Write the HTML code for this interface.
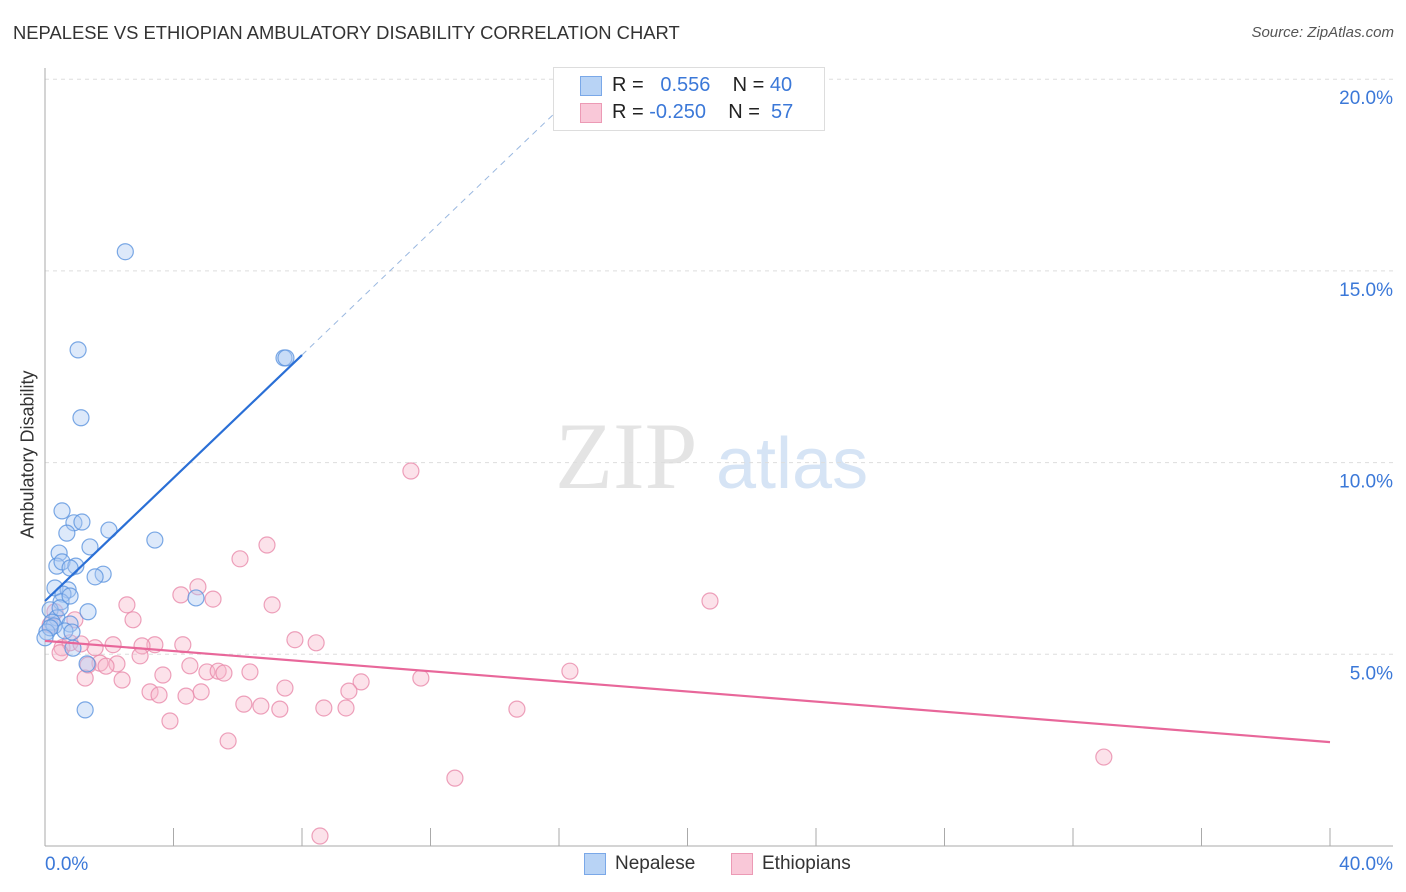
<!DOCTYPE html>
<html><head><meta charset="utf-8"><style>
body{margin:0;background:#fff;font-family:"Liberation Sans",sans-serif;}
#wrap{position:relative;width:1406px;height:892px;overflow:hidden;}
.t{position:absolute;white-space:nowrap;}
</style></head><body>
<div id="wrap">
<div class="t" style="left:13px;top:22px;font-size:18.4px;color:#333;">NEPALESE VS ETHIOPIAN AMBULATORY DISABILITY CORRELATION CHART</div>
<div class="t" style="right:12px;top:24px;font-size:15px;color:#555;font-style:italic;">Source: ZipAtlas.com</div>
<svg id="svg" width="1406" height="892" style="position:absolute;left:0;top:0"></svg>
<div class="t" style="left:-72px;top:444px;width:200px;text-align:center;transform:rotate(-90deg);font-size:18px;color:#333;">Ambulatory Disability</div>
<div style="position:absolute;left:553px;top:67px;width:270px;height:62px;border:1px solid #ddd;background:#fff;">
 <div style="position:absolute;left:26px;top:8px;width:20px;height:18px;background:#b8d3f5;border:1px solid #7aa8e8;"></div>
 <div style="position:absolute;left:26px;top:35px;width:20px;height:18px;background:#f9c8d8;border:1px solid #ec9ab5;"></div>
 <div class="t" style="left:58px;top:6px;font-size:20px;color:#222">R = &nbsp;&nbsp;<span style="color:#3b78d8">0.556</span>&nbsp;&nbsp;&nbsp; N = <span style="color:#3b78d8">40</span></div>
 <div class="t" style="left:58px;top:33px;font-size:20px;color:#222">R = <span style="color:#3b78d8">-0.250</span>&nbsp;&nbsp;&nbsp; N = &nbsp;<span style="color:#3b78d8">57</span></div>
</div>
<div style="position:absolute;left:584px;top:853px;width:20px;height:20px;background:#b8d3f5;border:1px solid #7aa8e8;"></div>
<div class="t" style="left:615px;top:853px;font-size:19px;color:#333">Nepalese</div>
<div style="position:absolute;left:731px;top:853px;width:20px;height:20px;background:#f9c8d8;border:1px solid #ec9ab5;"></div>
<div class="t" style="left:762px;top:853px;font-size:19px;color:#333">Ethiopians</div>
</div>
<script>
const yTicks=[5,10,15,20];
const yTickLabels=["5.0%","10.0%","15.0%","20.0%"];
const xTickLabels=["0.0%","40.0%"];
const nepX=[2.5,1.03,1.12,0.53,0.9,1.15,0.68,1.99,3.42,0.44,1.4,0.37,0.53,0.96,0.78,1.81,1.56,0.31,0.72,0.56,4.7,0.5,1.34,0.16,0.37,0.22,0.28,0.78,0.06,0.62,0.84,0.87,1.31,1.25,7.44,7.5,0.16,0.47,0,0.78];
const nepY=[15.5,12.94,11.17,8.74,8.43,8.45,8.16,8.24,7.98,7.64,7.8,7.3,7.41,7.3,7.25,7.09,7.02,6.73,6.68,6.57,6.47,6.37,6.11,6.16,5.95,5.84,5.74,5.79,5.58,5.61,5.58,5.16,4.75,3.55,12.73,12.73,5.69,6.21,5.43,6.52];
const ethX=[11.39,6.91,6.07,20.7,4.76,4.23,5.23,2.55,7.07,2.74,7.78,8.44,4.29,3.42,3.02,2.12,1.56,0.53,0.78,1.12,0.47,2.96,1.71,2.24,1.9,1.34,4.51,3.67,5.04,5.39,5.57,6.38,16.34,11.7,9.84,1.25,2.4,7.47,3.27,3.55,4.86,4.39,9.46,8.68,6.19,6.72,7.31,9.37,14.69,3.89,5.7,32.96,12.76,8.56,0.16,0.31,0.93];
const ethY=[9.78,7.85,7.49,6.39,6.76,6.55,6.44,6.29,6.29,5.9,5.38,5.3,5.25,5.25,5.22,5.25,5.17,5.17,5.3,5.27,5.04,4.96,4.77,4.75,4.69,4.72,4.7,4.46,4.54,4.56,4.51,4.54,4.56,4.38,4.28,4.38,4.33,4.12,4.02,3.94,4.02,3.91,4.04,3.6,3.7,3.65,3.57,3.6,3.57,3.26,2.74,2.32,1.77,0.26,5.77,6.11,5.9];
const nepLine=[6.39,0.802];
const ethLine=[5.35,-0.066];
const X0=45,X1=1330,Y0=846,PY=38.34;
const sx=v=>X0+(v/40)*(X1-X0), sy=v=>Y0-v*PY;
const svg=document.getElementById('svg');const NS='http://www.w3.org/2000/svg';
function mk(tag,a){const e=document.createElementNS(NS,tag);for(const k in a)e.setAttribute(k,a[k]);svg.appendChild(e);return e;}
let w=mk('text',{x:555,y:488,'font-size':95,'font-family':'Liberation Serif,serif',fill:'#e4e4e4'});w.textContent='ZIP';


let w2=mk('text',{x:716,y:488,'font-size':72,'font-family':'Liberation Sans,sans-serif',fill:'#d6e4f5'});w2.textContent='atlas';


yTicks.forEach((t,i)=>{
 const g=mk('line',{x1:X0,x2:1393,y1:sy(t),y2:sy(t),stroke:'#ddd','stroke-dasharray':'4,4'});
 
 
 const tx=mk('text',{x:1393,y:sy(t)+25,'text-anchor':'end','font-size':19,fill:'#3b78d8','font-family':'Liberation Sans,sans-serif'});tx.textContent=yTickLabels[i];
 
 
});
let ax=mk('line',{x1:X0,x2:X0,y1:68,y2:846,stroke:'#aaa'});


let bx=mk('line',{x1:X0,x2:1393,y1:846,y2:846,stroke:'#aaa'});


for(let i=0;i<=10;i++){const x=X0+i*(X1-X0)/10;const tk=mk('line',{x1:x,x2:x,y1:828,y2:846,stroke:'#aaa'});
 
 }
[[0,'start',X0],[1,'end',1393]].forEach(([i,anc,x])=>{const t=mk('text',{x:x,y:870,'text-anchor':anc,'font-size':19,fill:'#3b78d8','font-family':'Liberation Sans,sans-serif'});t.textContent=xTickLabels[i];
 
 });
function pts(xs,ys,fill,stroke,name){xs.forEach((x,i)=>{const c=mk('circle',{cx:sx(x),cy:sy(ys[i]),r:8,fill:fill,'fill-opacity':0.4,stroke:stroke,'stroke-opacity':0.8,'stroke-width':1.2});
 
 });}
pts(ethX,ethY,'#f7b6cb','#e88aaa','ethiopian-point');
pts(nepX,nepY,'#a9c8f2','#5b93df','nepalese-point');
const xe=(20-nepLine[0])/nepLine[1];
let d=mk('line',{x1:sx(8),y1:sy(nepLine[0]+8*nepLine[1]),x2:sx(xe),y2:sy(20),stroke:'#9ab8e0','stroke-dasharray':'6,5'});


let l1=mk('line',{x1:sx(0),y1:sy(nepLine[0]),x2:sx(8),y2:sy(nepLine[0]+8*nepLine[1]),stroke:'#2a6fd6','stroke-width':2.2});


let l2=mk('line',{x1:sx(0),y1:sy(ethLine[0]),x2:sx(40),y2:sy(ethLine[0]+40*ethLine[1]),stroke:'#e8679a','stroke-width':2.2});


</script>
</body></html>
